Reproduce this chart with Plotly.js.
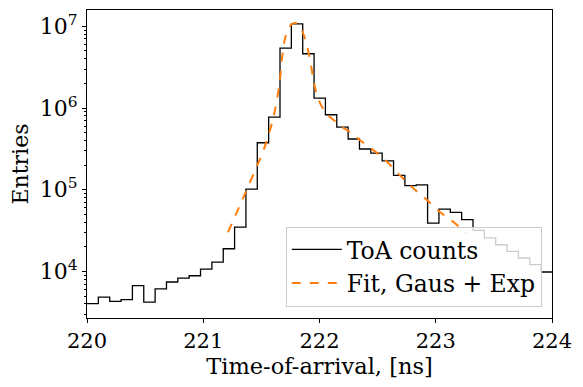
<!DOCTYPE html>
<html>
<head>
<meta charset="utf-8">
<script src="https://cdn.plot.ly/plotly-3.0.1.min.js"></script>
<style>
  body { margin: 0; background: #ffffff; }
  #chart { width: 583px; height: 387px; }
</style>
</head>
<body>
<div id="chart"></div>
<script>
// histogram: 41 bins starting at 220 ns, TDC bin width ~97.66 ps
var histStart = 220;
var binWidth = 0.09766;
var toaCounts = [
    4030, 4860, 4300, 4510, 6690, 4220, 6100, 7420, 8300, 8860,
    10700, 13000, 18950, 34900, 102000, 376000, 776000, 5420000, 10700000, 4620000,
    1320000, 828000, 585000, 418000, 315000, 281000, 226000, 150000, 112000, 115000,
    39100, 58000, 52700, 43000, 31800, 25700, 21200, 17600, 14600, 12100,
    9840
];

// fit curve
var fitX = [221.213, 221.30, 221.371, 221.45, 221.52, 221.566, 221.615, 221.658, 221.681, 221.709,
            221.758, 221.795, 221.830, 221.873, 221.916, 221.950, 221.987, 222.045, 222.116, 222.202,
            222.260, 222.346, 222.546, 222.690, 222.804, 222.920, 223.034, 223.148, 223.264];
var fitY = [30200, 57500, 97700, 178000, 309000, 490000, 912000, 2140000, 4470000, 7590000,
            10500000, 11000000, 10000000, 7240000, 4070000, 2140000, 1320000, 912000, 724000, 575000,
            513000, 407000, 245000, 151000, 105000, 75900, 53700, 40700, 29500];

var xTicks = [220, 221, 222, 223, 224];
var yTicks = [1e4, 1e5, 1e6, 1e7];
var yTickText = ['10<sup>4</sup>', '10<sup>5</sup>', '10<sup>6</sup>', '10<sup>7</sup>'];

document.addEventListener('DOMContentLoaded', function() {
    // step outline like matplotlib histtype='step'
    var edges = [];
    var stepY = [];
    for (var i = 0; i <= toaCounts.length; i++) {
        edges.push(histStart + i * binWidth);
        stepY.push(i < toaCounts.length ? toaCounts[i] : toaCounts[toaCounts.length - 1]);
    }

    var font = 'DejaVu Serif, serif';

    var data = [
        {
            x: edges,
            y: stepY,
            type: 'scatter',
            mode: 'lines',
            name: 'ToA counts',
            line: { color: '#000000', width: 1.3, shape: 'hv' }
        },
        {
            x: fitX,
            y: fitY,
            type: 'scatter',
            mode: 'lines',
            name: 'Fit, Gaus + Exp',
            line: { color: '#ff7f0e', width: 2, dash: 'dash', shape: 'spline' }
        }
    ];

    var layout = {
        width: 583,
        height: 387,
        margin: { l: 87, r: 31, t: 10, b: 69 },
        font: { family: font, size: 21, color: '#000000' },
        showlegend: true,
        legend: {
            x: 0.978, y: 0.037, xanchor: 'right', yanchor: 'bottom',
            bgcolor: 'rgba(255,255,255,0.8)',
            bordercolor: '#cccccc', borderwidth: 1,
            font: { family: font, size: 23.5 },
            itemwidth: 50,
            tracegroupgap: 0
        },
        xaxis: {
            range: [220, 224],
            tickvals: xTicks,
            tickfont: { family: font, size: 21 },
            ticks: 'outside', ticklen: 4, tickcolor: '#000',
            showline: true, linecolor: '#000', linewidth: 1, mirror: true,
            showgrid: false, zeroline: false,
            title: { text: 'Time-of-arrival, [ns]', font: { family: font, size: 22.5 }, standoff: 2 }
        },
        yaxis: {
            type: 'log',
            range: [3.43, 7.2],
            tickvals: yTicks,
            ticktext: yTickText,
            tickfont: { family: font, size: 22 },
            ticks: 'outside', ticklen: 4, tickcolor: '#000',
            minor: { ticks: 'outside', ticklen: 2, tickcolor: '#000', dtick: 'D1', showgrid: false },
            showline: true, linecolor: '#000', linewidth: 1, mirror: true,
            showgrid: false, zeroline: false,
            title: { text: 'Entries', font: { family: font, size: 22 }, standoff: 5 }
        },
        plot_bgcolor: '#ffffff',
        paper_bgcolor: '#ffffff'
    };

    Plotly.newPlot('chart', data, layout, { displayModeBar: false });
});
</script>
</body>
</html>
